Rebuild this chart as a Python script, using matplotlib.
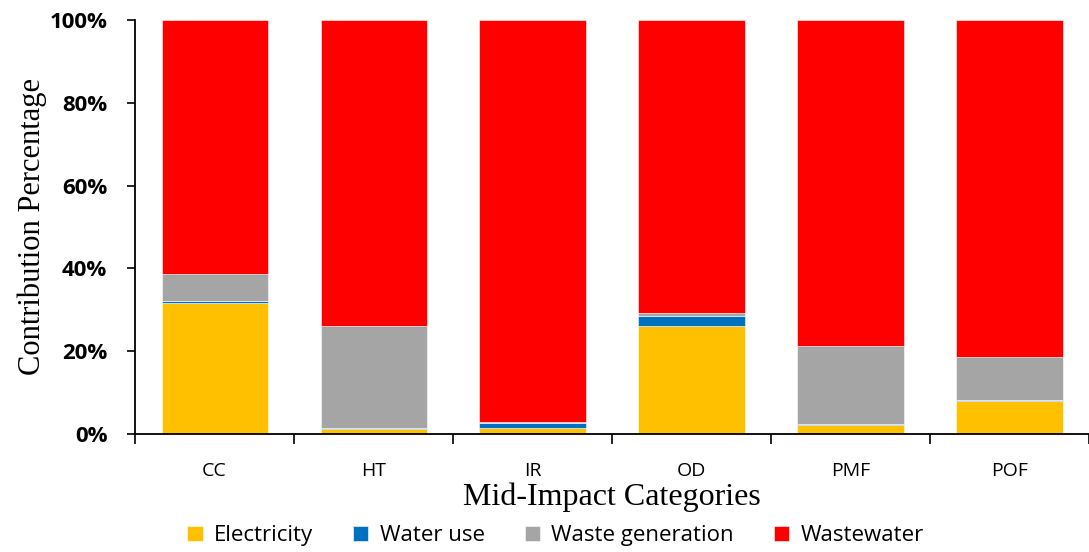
import numpy as np
import matplotlib
matplotlib.use("Agg")
import matplotlib.pyplot as plt
from matplotlib.ticker import PercentFormatter, FixedLocator

categories = ["CC", "HT", "IR", "OD", "PMF", "POF"]
electricity = [31.7, 1.1, 1.4, 26.0, 2.1, 8.0]
water_use = [0.4, 0.4, 1.2, 2.6, 0.3, 0.1]
waste_generation = [6.5, 24.7, 0.2, 0.6, 18.9, 10.6]
wastewater = [61.4, 73.8, 97.2, 70.8, 78.7, 81.3]

series = [
    ("Electricity", electricity, "#FFC000"),
    ("Water use", water_use, "#0070C0"),
    ("Waste generation", waste_generation, "#A5A5A5"),
    ("Wastewater", wastewater, "#FF0000"),
]

fig = plt.figure(figsize=(10.89, 5.52), dpi=100)
ax = fig.add_axes([0.124, 0.2138, 0.876, 0.75])

x = np.arange(len(categories))
bottom = np.zeros(len(categories))
for name, vals, col in series:
    vals = np.array(vals)
    ax.bar(x, vals, bottom=bottom, width=0.667, color=col, label=name,
           edgecolor="white", linewidth=0.4)
    bottom += vals

ax.set_xlim(-0.5, len(categories) - 0.5)
ax.set_ylim(0, 100)
ax.set_yticks(np.arange(0, 101, 20))
ax.yaxis.set_major_formatter(PercentFormatter(decimals=0))

ax.set_xticks(x)
ax.set_xticklabels(categories, fontsize=14, family="Open Sans")
ax.xaxis.set_minor_locator(FixedLocator(np.arange(-0.5, len(categories), 1.0)))
ax.tick_params(axis="x", which="major", length=0, pad=20)
ax.tick_params(axis="x", which="minor", length=7, width=1.2, direction="out")
ax.tick_params(axis="y", length=6, width=1.2, direction="out", pad=14)
for lab in ax.get_yticklabels():
    lab.set_fontweight("bold")
    lab.set_fontsize(16)
    lab.set_family("Open Sans")

for s in ["top", "right"]:
    ax.spines[s].set_visible(False)
for s in ["left", "bottom"]:
    ax.spines[s].set_linewidth(1.3)
    ax.spines[s].set_color("black")

ax.set_xlabel("Mid-Impact Categories", family="Liberation Serif", fontsize=23, labelpad=2)
ax.set_ylabel("Contribution Percentage", family="Liberation Serif", fontsize=22, labelpad=2)

fig.legend(*ax.get_legend_handles_labels(), loc="center", bbox_to_anchor=(0.51, 0.029),
           ncol=4, frameon=False, prop={"family": "Open Sans", "size": 16},
           handlelength=0.7, handleheight=0.7, columnspacing=1.8, handletextpad=0.5,
           borderpad=0.1)

fig.savefig("out.png", dpi=100)
